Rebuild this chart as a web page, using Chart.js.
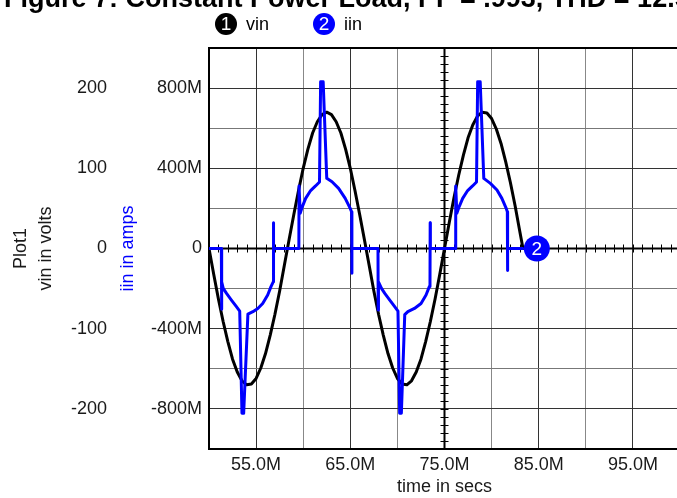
<!DOCTYPE html>
<html>
<head>
<meta charset="utf-8">
<script src="https://cdn.jsdelivr.net/npm/chart.js@4.4.1/dist/chart.umd.min.js"></script>
<style>
  html, body { margin: 0; padding: 0; background: #fff; overflow: hidden; }
  #wrap { width: 677px; height: 498px; overflow: hidden; position: relative; }
  canvas { position: absolute; left: 0; top: 0; }
</style>
</head>
<body>
<div id="wrap"><canvas id="chart" width="685" height="498"></canvas></div>
<script>
// time axis in ms ("M"), vin in volts, iin in milli-units ("M")
const timeVin = [50, 50.5, 51, 51.5, 52, 52.5, 53, 53.5, 54, 54.5, 55, 55.5, 56, 56.5, 57, 57.5,
	58, 58.5, 59, 59.5, 60, 60.5, 61, 61.5, 62, 62.5, 63, 63.5, 64, 64.5, 65, 65.5, 66, 66.5,
	67, 67.5, 68, 68.5, 69, 69.5, 70, 70.5, 71, 71.5, 72, 72.5, 73, 73.5, 74, 74.5, 75, 75.5,
	76, 76.5, 77, 77.5, 78, 78.5, 79, 79.5, 80, 80.5, 81, 81.5, 82, 82.5, 83, 83.33];
const vinValues = [0, -32, -63, -91, -116, -138, -154, -165, -170, -169, -162, -149, -131, -108, -82, -53,
	-21, 11, 42, 72, 100, 124, 144, 158, 167, 170, 167, 158, 144, 124, 100, 72, 42, 11,
	-21, -53, -82, -108, -131, -149, -162, -169, -170, -165, -154, -138, -116, -91, -63, -32, 0, 32,
	63, 91, 116, 138, 154, 165, 170, 169, 162, 149, 131, 108, 82, 53, 21, 0];

const timeIin = [50, 51.31, 51.33, 51.36, 51.51, 51.86, 52.38, 52.91, 53.26, 53.50, 53.68, 54.13,
	54.66, 55.18, 55.70, 56.23, 56.58, 56.82, 56.84, 56.86, 59.54, 59.56, 59.68, 59.91, 60.26,
	60.79, 61.31, 61.73, 61.85, 62.12, 62.50, 63.06, 63.76, 64.46, 64.99, 65.14, 65.16, 65.18,
	67.94, 67.96, 67.99, 68.31, 68.66, 69.19, 69.71, 70.06, 70.24, 70.42, 70.78, 71.11, 71.81,
	72.51, 73.04, 73.39, 73.46, 73.48, 73.50, 76.17, 76.19, 76.31, 76.56, 76.93, 77.46, 77.98,
	78.40, 78.52, 78.79, 79.17, 79.87, 80.57, 81.09, 81.55, 81.67, 81.69, 81.71, 83.30];
const iinValues = [0, 0, -303, -166, -199, -224, -257, -290, -312, -822, -822, -327,
	-315, -299, -274, -232, -190, -166, 129, 0, 0, 312, 176, 209, 250,
	289, 312, 332, 832, 832, 350, 333, 300, 250, 200, 183, -124, 0,
	0, -307, -166, -199, -224, -257, -290, -312, -822, -822, -330, -315, -299,
	-274, -232, -190, -166, 129, 0, 0, 312, 176, 209, 250, 289, 312,
	332, 832, 832, 350, 325, 292, 250, 200, 183, -110, 0, 0];

const titleText = 'Figure 7: Constant Power Load, PF = .993, THD = 12.5%';
const seriesNames = ['vin', 'iin'];
const seriesColors = ['#000000', '#0000ff'];
const traceMarkerTime = 84.8;

const FONT = "'Liberation Sans', Arial, Helvetica, sans-serif";
Chart.defaults.font.family = FONT;
Chart.defaults.font.size = 18;
Chart.defaults.color = '#1a1a1a';

function pairs(xs, ys) {
	return xs.map((x, i) => ({x: x, y: ys[i]}));
}

function badge(ctx, cx, cy, r, color, label) {
	ctx.beginPath();
	ctx.arc(cx, cy, r, 0, Math.PI * 2);
	ctx.fillStyle = color;
	ctx.fill();
	ctx.fillStyle = '#ffffff';
	ctx.font = '19px ' + FONT;
	ctx.textAlign = 'center';
	ctx.textBaseline = 'middle';
	ctx.fillText(label, cx, cy + 1);
}

const decorations = {
	id: 'decorations',

	beforeDatasetsDraw(chart) {
		const {ctx, chartArea: a, scales} = chart;
		const x = scales.x, yi = scales.yi;
		ctx.save();
		ctx.strokeStyle = '#000';

		// frame
		ctx.lineWidth = 2;
		ctx.beginPath();
		ctx.moveTo(a.right, a.top);
		ctx.lineTo(a.left, a.top);
		ctx.lineTo(a.left, a.bottom);
		ctx.lineTo(a.right, a.bottom);
		ctx.stroke();

		// zero line with minor ticks
		const y0 = yi.getPixelForValue(0);
		ctx.beginPath();
		ctx.moveTo(a.left, y0);
		ctx.lineTo(a.right, y0);
		ctx.stroke();
		ctx.lineWidth = 1;
		ctx.beginPath();
		for (let t = x.min; t <= x.max; t += 1) {
			const px = Math.round(x.getPixelForValue(t)) + 0.5;
			ctx.moveTo(px, y0 - 4);
			ctx.lineTo(px, y0 + 4);
		}
		ctx.stroke();

		// centre axis at 75M
		const xc = x.getPixelForValue(75);
		ctx.lineWidth = 2;
		ctx.beginPath();
		ctx.moveTo(xc, a.top);
		ctx.lineTo(xc, a.bottom);
		ctx.stroke();
		ctx.lineWidth = 1;
		ctx.beginPath();
		for (let v = yi.min; v <= yi.max; v += 40) {
			const py = Math.round(yi.getPixelForValue(v)) + 0.5;
			ctx.moveTo(xc - 4, py);
			ctx.lineTo(xc + 4, py);
		}
		ctx.stroke();
		ctx.restore();
	},

	afterDatasetsDraw(chart) {
		const {ctx, scales} = chart;
		ctx.save();
		badge(ctx, scales.x.getPixelForValue(traceMarkerTime), scales.yi.getPixelForValue(0), 13, seriesColors[1], '2');
		ctx.restore();
	},

	afterDraw(chart) {
		const ctx = chart.ctx;
		ctx.save();
		// title (cut off at the top, as in the source)
		ctx.font = 'bold 27px ' + FONT;
		ctx.fillStyle = '#000';
		ctx.textAlign = 'left';
		ctx.textBaseline = 'alphabetic';
		ctx.fillText(titleText, 4, 7);

		// legend
		const lx = [226, 324];
		seriesNames.forEach((name, i) => {
			badge(ctx, lx[i], 24, 11, seriesColors[i], String(i + 1));
			ctx.fillStyle = '#000';
			ctx.font = '18px ' + FONT;
			ctx.textAlign = 'left';
			ctx.textBaseline = 'middle';
			ctx.fillText(name, lx[i] + 20, 25);
		});
		ctx.restore();
	}
};

new Chart(document.getElementById('chart'), {
	type: 'line',
	data: {
		datasets: [{
			label: seriesNames[1],
			data: pairs(timeIin, iinValues),
			yAxisID: 'yi',
			borderColor: seriesColors[1],
			borderWidth: 3,
			order: 0
		}, {
			label: seriesNames[0],
			data: pairs(timeVin, vinValues),
			yAxisID: 'yv',
			borderColor: seriesColors[0],
			borderWidth: 3,
			order: 1
		}]
	},
	options: {
		responsive: false,
		animation: false,
		devicePixelRatio: 1,
		elements: {
			point: {radius: 0, hoverRadius: 0},
			line: {tension: 0, borderJoinStyle: 'round', borderCapStyle: 'round'}
		},
		layout: {padding: {top: 48, left: 0, right: 0, bottom: 0}},
		plugins: {
			legend: {display: false},
			tooltip: {enabled: false},
			title: {display: false}
		},
		scales: {
			x: {
				type: 'linear',
				min: 50,
				max: 100,
				afterFit: (s) => { s.height = 49; },
				border: {display: false},
				grid: {
					drawTicks: false,
					lineWidth: 1,
					color: (c) => ((c.tick.value - 55) % 10 === 0 ? '#333' : '#888')
				},
				ticks: {
					stepSize: 5,
					padding: 5,
					maxRotation: 0,
					autoSkip: false,
					callback: (v) => ((v - 55) % 10 === 0 ? v.toFixed(1) + 'M' : '')
				},
				title: {display: true, text: 'time in secs', padding: {top: 0, bottom: 0}}
			},
			yv: {
				type: 'linear',
				position: 'left',
				weight: 2,
				min: -250,
				max: 250,
				afterFit: (s) => { s.width = 112; },
				border: {display: false},
				grid: {display: false, drawTicks: false},
				ticks: {
					stepSize: 50,
					padding: 5,
					autoSkip: false,
					callback: (v) => (v % 100 === 0 && Math.abs(v) <= 200 ? String(v) : '')
				},
				title: {
					display: true,
					text: ['Plot1', 'vin in volts'],
					font: {size: 18, lineHeight: 1.42},
					padding: {top: 8, bottom: 0}
				}
			},
			yi: {
				type: 'linear',
				position: 'left',
				weight: 1,
				min: -1000,
				max: 1000,
				afterFit: (s) => { s.width = 97; },
				border: {display: false},
				grid: {
					drawTicks: false,
					lineWidth: 1,
					color: (c) => (c.tick.value % 400 === 0 ? '#333' : '#777')
				},
				ticks: {
					stepSize: 200,
					padding: 7,
					autoSkip: false,
					callback: (v) => (v % 400 === 0 && Math.abs(v) <= 800 ? (v === 0 ? '0' : v + 'M') : '')
				},
				title: {
					display: true,
					text: 'iin in amps',
					color: '#0000ff',
					padding: {top: 5, bottom: 0}
				}
			}
		}
	},
	plugins: [decorations]
});
</script>
</body>
</html>
